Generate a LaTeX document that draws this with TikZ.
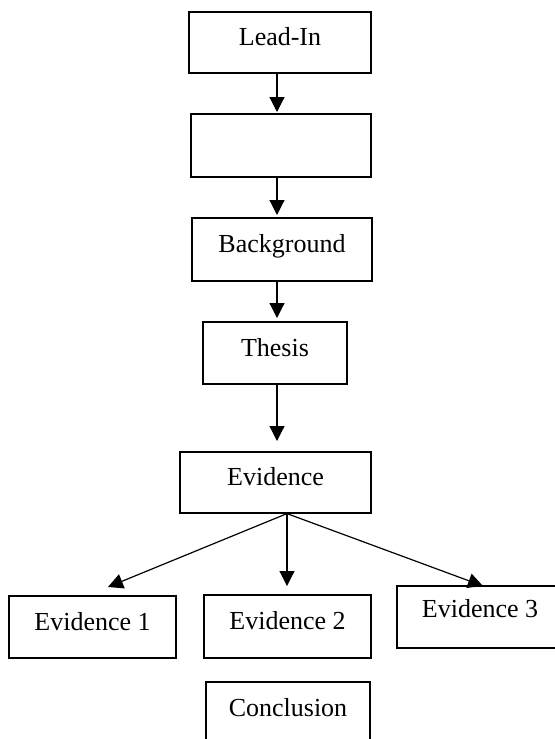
\documentclass[tikz,border=0pt]{standalone}
\usepackage{fontspec}
\setmainfont{Liberation Serif}
\usetikzlibrary{arrows.meta}
\begin{document}
\begin{tikzpicture}[x=1bp,y=-1bp,
  box/.style={draw=black, line width=1.2bp, fill=white, inner sep=0pt,
    font=\fontsize{26bp}{31bp}\selectfont, text height=18bp, text depth=12bp},
  arr/.style={draw=black, line width=1.2bp, -{Triangle[length=15bp,width=15bp]}}]
\useasboundingbox (0,0) rectangle (555,739);
\clip (0,0) rectangle (555,739);
\fill[white] (0,0) rectangle (555,739);
\node[box, minimum width=182bp, minimum height=61bp] (lead) at (280,42.5) {Lead-In};
\node[box, minimum width=180bp, minimum height=63bp] (blank) at (281,145.5) {};
\node[box, minimum width=180bp, minimum height=63bp] (bg) at (282,249.5) {Background};
\node[box, minimum width=144bp, minimum height=62bp] (thesis) at (275,353) {Thesis};
\node[box, minimum width=191bp, minimum height=61bp] (evid) at (275.5,482.5) {Evidence};
\node[box, minimum width=167bp, minimum height=62bp] (e1) at (92.5,627) {Evidence 1};
\node[box, minimum width=167bp, minimum height=63bp] (e2) at (287.5,626.5) {Evidence 2};
\node[box, minimum width=166bp, minimum height=62bp, text depth=18bp] (e3) at (480,617) {Evidence 3};
\node[box, minimum width=164bp, minimum height=62bp] (concl) at (288,713) {Conclusion};
\coordinate (t1) at (277,112);
\coordinate (t2) at (277,215);
\coordinate (t3) at (277,318);
\coordinate (t4) at (277,441);
\coordinate (fork) at (287,514);
\coordinate (t5) at (108,587);
\coordinate (t6) at (287,586);
\coordinate (t7) at (483,586);
\draw[arr] (lead.south -| t1) -- (t1);
\draw[arr] (blank.south -| t2) -- (t2);
\draw[arr] (bg.south -| t3) -- (t3);
\draw[arr] (thesis.south -| t4) -- (t4);
\draw[arr] (evid.south -| fork) -- (t5);
\draw[arr] (evid.south -| fork) -- (t6);
\draw[arr] (evid.south -| fork) -- (t7);
\end{tikzpicture}
\end{document}
